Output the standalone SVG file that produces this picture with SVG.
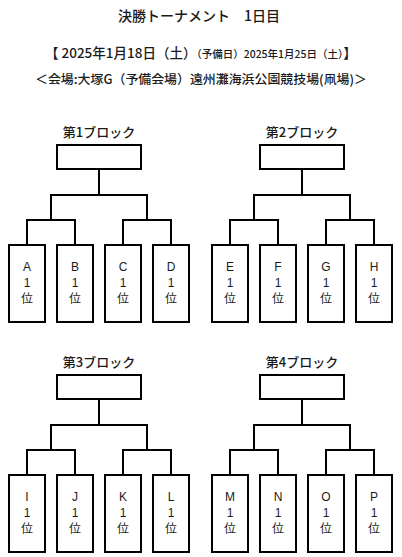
<svg xmlns="http://www.w3.org/2000/svg" width="402" height="557" viewBox="0 0 402 557">
<style>
text{font-family:"Noto Sans CJK JP","Noto Sans",sans-serif;fill:#1a1a1a;text-anchor:middle}
.h1{font-size:14px;font-weight:500}
.h2{font-size:13.5px;font-weight:500}
.h2s{font-size:10.5px;font-weight:500}
.h3{font-size:12.5px;font-weight:500}
.bt{font-size:13px;font-weight:500}
.lt{font-family:"Liberation Sans","Noto Sans CJK JP",sans-serif;font-size:12px}
.box{fill:#fff;stroke:#000;stroke-width:2}
.con{fill:none;stroke:#000;stroke-width:2}
</style>
<defs>
<path id="tree" d="M99 169V195 M51 220V195H147V220 M27 245V220H75V245 M123 245V220H171V245"/>
</defs>
<g id="header">
<text class="h1" x="199" y="21">決勝トーナメント　1日目</text>
<text x="45" y="58" style="text-anchor:start"><tspan class="h2">【 2025年1月18日（土）</tspan><tspan class="h2s">（予備日）2025年1月25日（土）</tspan><tspan class="h2">】</tspan></text>
<text class="h3" x="201" y="84" textLength="332" lengthAdjust="spacingAndGlyphs">＜会場:大塚G（予備会場）遠州灘海浜公園競技場(凧場)＞</text>
</g>
<g id="connectors">
<use href="#tree" class="con"/>
<use href="#tree" class="con" transform="translate(203,0)"/>
<use href="#tree" class="con" transform="translate(0,230)"/>
<use href="#tree" class="con" transform="translate(203,230)"/>
</g>
<g id="block1">
<g id="title1"><text class="bt" x="99" y="137">第1ブロック</text></g>
<g id="winner1"><rect class="box" x="57" y="145" width="84" height="24"/></g>
<g id="A"><rect class="box" x="9" y="245" width="36" height="77"/><text class="lt" x="27" y="271">A</text><text class="lt" x="27" y="287">1</text><text class="lt" x="27" y="303">位</text></g>
<g id="B"><rect class="box" x="57" y="245" width="36" height="77"/><text class="lt" x="75" y="271">B</text><text class="lt" x="75" y="287">1</text><text class="lt" x="75" y="303">位</text></g>
<g id="C"><rect class="box" x="105" y="245" width="36" height="77"/><text class="lt" x="123" y="271">C</text><text class="lt" x="123" y="287">1</text><text class="lt" x="123" y="303">位</text></g>
<g id="D"><rect class="box" x="153" y="245" width="36" height="77"/><text class="lt" x="171" y="271">D</text><text class="lt" x="171" y="287">1</text><text class="lt" x="171" y="303">位</text></g>
</g>
<g id="block2" transform="translate(203,0)">
<g id="title2"><text class="bt" x="99" y="137">第2ブロック</text></g>
<g id="winner2"><rect class="box" x="57" y="145" width="84" height="24"/></g>
<g id="E"><rect class="box" x="9" y="245" width="36" height="77"/><text class="lt" x="27" y="271">E</text><text class="lt" x="27" y="287">1</text><text class="lt" x="27" y="303">位</text></g>
<g id="F"><rect class="box" x="57" y="245" width="36" height="77"/><text class="lt" x="75" y="271">F</text><text class="lt" x="75" y="287">1</text><text class="lt" x="75" y="303">位</text></g>
<g id="G"><rect class="box" x="105" y="245" width="36" height="77"/><text class="lt" x="123" y="271">G</text><text class="lt" x="123" y="287">1</text><text class="lt" x="123" y="303">位</text></g>
<g id="H"><rect class="box" x="153" y="245" width="36" height="77"/><text class="lt" x="171" y="271">H</text><text class="lt" x="171" y="287">1</text><text class="lt" x="171" y="303">位</text></g>
</g>
<g id="block3" transform="translate(0,230)">
<g id="title3"><text class="bt" x="99" y="137">第3ブロック</text></g>
<g id="winner3"><rect class="box" x="57" y="145" width="84" height="24"/></g>
<g id="I"><rect class="box" x="9" y="245" width="36" height="77"/><text class="lt" x="27" y="271">I</text><text class="lt" x="27" y="287">1</text><text class="lt" x="27" y="303">位</text></g>
<g id="J"><rect class="box" x="57" y="245" width="36" height="77"/><text class="lt" x="75" y="271">J</text><text class="lt" x="75" y="287">1</text><text class="lt" x="75" y="303">位</text></g>
<g id="K"><rect class="box" x="105" y="245" width="36" height="77"/><text class="lt" x="123" y="271">K</text><text class="lt" x="123" y="287">1</text><text class="lt" x="123" y="303">位</text></g>
<g id="L"><rect class="box" x="153" y="245" width="36" height="77"/><text class="lt" x="171" y="271">L</text><text class="lt" x="171" y="287">1</text><text class="lt" x="171" y="303">位</text></g>
</g>
<g id="block4" transform="translate(203,230)">
<g id="title4"><text class="bt" x="99" y="137">第4ブロック</text></g>
<g id="winner4"><rect class="box" x="57" y="145" width="84" height="24"/></g>
<g id="M"><rect class="box" x="9" y="245" width="36" height="77"/><text class="lt" x="27" y="271">M</text><text class="lt" x="27" y="287">1</text><text class="lt" x="27" y="303">位</text></g>
<g id="N"><rect class="box" x="57" y="245" width="36" height="77"/><text class="lt" x="75" y="271">N</text><text class="lt" x="75" y="287">1</text><text class="lt" x="75" y="303">位</text></g>
<g id="O"><rect class="box" x="105" y="245" width="36" height="77"/><text class="lt" x="123" y="271">O</text><text class="lt" x="123" y="287">1</text><text class="lt" x="123" y="303">位</text></g>
<g id="P"><rect class="box" x="153" y="245" width="36" height="77"/><text class="lt" x="171" y="271">P</text><text class="lt" x="171" y="287">1</text><text class="lt" x="171" y="303">位</text></g>
</g>
</svg>
